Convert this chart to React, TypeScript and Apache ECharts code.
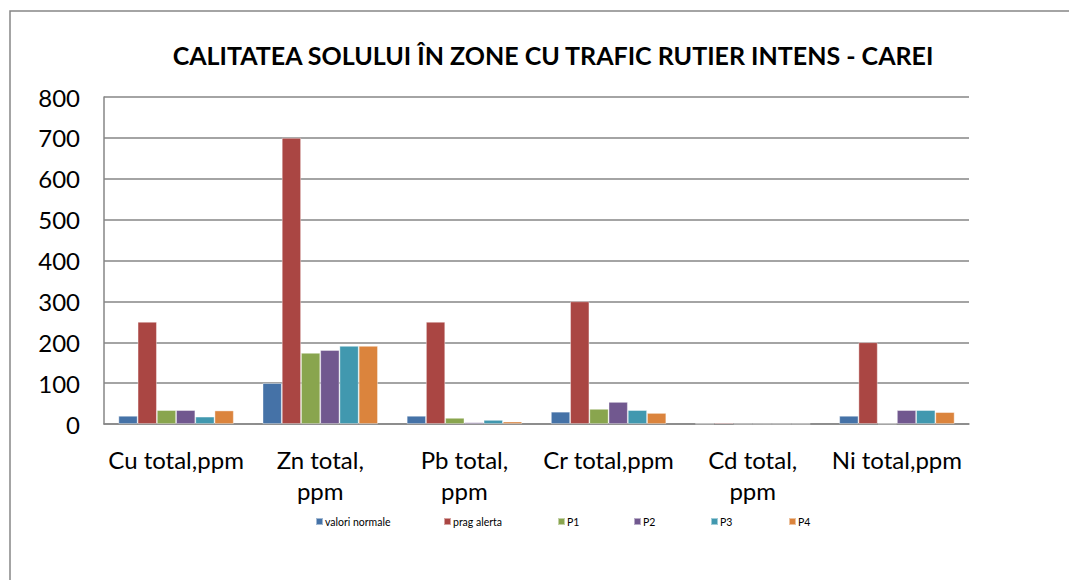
import React, { useEffect, useRef } from "react";
import * as echarts from "echarts";

const categories = [
  "Cu total,ppm",
  "Zn total,\nppm",
  "Pb total,\nppm",
  "Cr total,ppm",
  "Cd total,\nppm",
  "Ni total,ppm",
];
const seriesNames = ["valori normale", "prag alerta", "P1", "P2", "P3", "P4"];
const valoriNormale = [20, 100, 20, 30, 1, 20];
const pragAlerta = [250, 700, 250, 300, 3, 200];
const p1 = [34, 174, 15, 37, 0.5, 1];
const p2 = [34, 181, 4, 54, 0.5, 34];
const p3 = [18, 191, 10, 34, 0.5, 34];
const p4 = [33, 191, 6, 27, 0.5, 29];
const seriesValues = [valoriNormale, pragAlerta, p1, p2, p3, p4];
const colors = ["#4572A7", "#AA4643", "#89A54E", "#71588F", "#4198AF", "#DB843D"];
const legendLefts = [310, 438, 552, 628, 705, 783];

const FONT = "Lato, 'Liberation Sans', sans-serif";

export default function App() {
  const ref = useRef<HTMLDivElement>(null);
  useEffect(() => {
    document.body.style.margin = "0";
    if (!ref.current) return;
    const chart = echarts.init(ref.current, null, { renderer: "svg" });
    chart.setOption({
      animation: false,
      backgroundColor: "#ffffff",
      title: {
        text: "CALITATEA SOLULUI ÎN ZONE CU TRAFIC RUTIER INTENS - CAREI",
        left: 548,
        textAlign: "center",
        top: 37,
        textStyle: { fontFamily: FONT, fontSize: 25, fontWeight: "bold", color: "#000" },
      },
      graphic: [
        {
          type: "rect",
          shape: { x: 10, y: 11, width: 1100, height: 620 },
          style: { fill: "none", stroke: "#868686", lineWidth: 1.5 },
          silent: true,
        },
      ],
      legend: seriesNames.map((n, i) => ({
        data: [n],
        left: legendLefts[i],
        top: 511,
        itemWidth: 7,
        itemHeight: 7,
        icon: "rect",
        itemGap: 0,
        textStyle: { fontFamily: FONT, fontSize: 10.5, color: "#000", padding: [0, 0, 0, -3] },
      })),
      grid: { left: 104, right: 100, top: 97, bottom: 156, containLabel: false },
      xAxis: {
        type: "category",
        data: categories,
        axisLine: { show: true, lineStyle: { color: "#868686", width: 1.5 } },
        axisTick: { show: false },
        axisLabel: {
          interval: 0,
          fontFamily: FONT,
          fontSize: 24,
          color: "#000",
          lineHeight: 31,
          margin: 20,
        },
      },
      yAxis: {
        type: "value",
        min: 0,
        max: 800,
        interval: 100,
        axisLine: { show: true, lineStyle: { color: "#868686", width: 1.5 } },
        axisTick: { show: false },
        splitLine: { lineStyle: { color: "#868686", width: 1.5 } },
        axisLabel: { fontFamily: FONT, fontSize: 24, color: "#000", margin: 24 },
      },
      series: seriesNames.map((n, i) => ({
        name: n,
        type: "bar",
        data: seriesValues[i],
        barGap: "0%",
        barCategoryGap: "20%",
        itemStyle: { color: colors[i], borderColor: "rgba(255,255,255,0.5)", borderWidth: 0.8 },
      })),
    });
    return () => chart.dispose();
  }, []);
  return <div ref={ref} style={{ width: 1069, height: 580 }} />;
}
